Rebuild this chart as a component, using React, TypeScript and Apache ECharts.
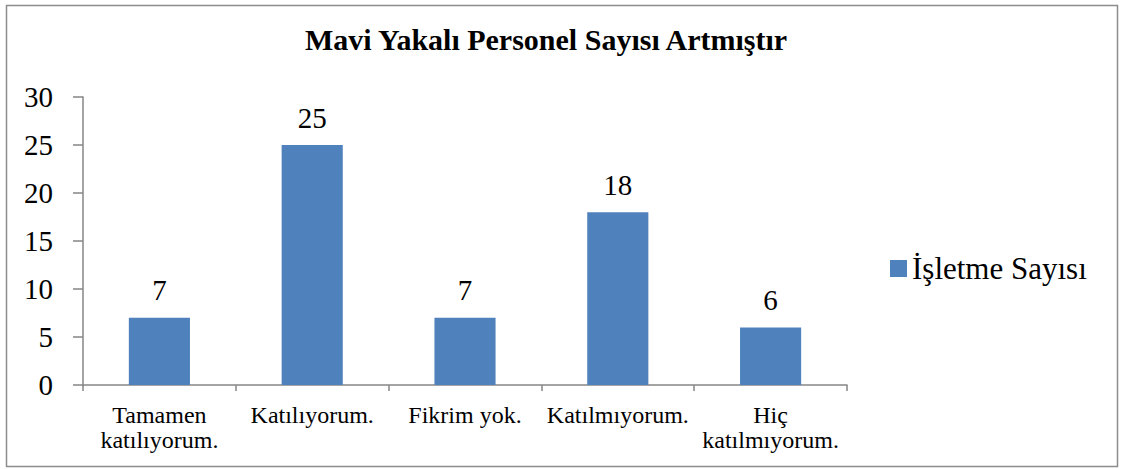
import React, { useEffect, useRef } from "react";
import * as echarts from "echarts";

const titleText = "Mavi Yakalı Personel Sayısı Artmıştır";
const seriesName = "İşletme Sayısı";
const categories = [
  "Tamamen\nkatılıyorum.",
  "Katılıyorum.",
  "Fikrim yok.",
  "Katılmıyorum.",
  "Hiç\nkatılmıyorum.",
];
const values = [7, 25, 7, 18, 6];
const yMin = 0;
const yMax = 30;
const yInterval = 5;

const FONT = "Liberation Serif";

export default function App() {
  const ref = useRef<HTMLDivElement>(null);
  useEffect(() => {
    if (!ref.current) return;
    const chart = echarts.init(ref.current, null, { renderer: "svg" });
    chart.setOption({
      animation: false,
      backgroundColor: "#ffffff",
      textStyle: { fontFamily: FONT },
      title: {
        text: titleText,
        left: 305,
        top: 24,
        padding: 0,
        textStyle: { fontFamily: FONT, fontSize: 30, fontWeight: "bold", color: "#000" },
      },
      legend: {
        data: [seriesName],
        left: 890,
        top: 253,
        padding: 0,
        itemWidth: 17,
        itemHeight: 17,
        itemGap: 6,
        icon: "rect",
        textStyle: { fontFamily: FONT, fontSize: 31, color: "#000" },
      },
      graphic: [
        {
          type: "rect",
          shape: { x: 6.5, y: 5.5, width: 1111, height: 461 },
          style: { fill: "none", stroke: "#8c8c8c", lineWidth: 1.5 },
          silent: true,
        },
      ],
      grid: { left: 83, right: 275, top: 97, bottom: 84, containLabel: false },
      xAxis: {
        type: "category",
        data: categories,
        axisLine: { show: true, lineStyle: { color: "#868686", width: 1.5 } },
        axisTick: { show: true, length: 6, lineStyle: { color: "#868686", width: 1.5 } },
        axisLabel: {
          fontFamily: FONT,
          fontSize: 24,
          color: "#000",
          lineHeight: 25,
          margin: 17,
          interval: 0,
        },
      },
      yAxis: {
        type: "value",
        min: yMin,
        max: yMax,
        interval: yInterval,
        splitLine: { show: false },
        axisLine: { show: true, lineStyle: { color: "#868686", width: 1.5 } },
        axisTick: { show: true, length: 10, lineStyle: { color: "#868686", width: 1.5 } },
        axisLabel: { fontFamily: FONT, fontSize: 29, color: "#000", margin: 30 },
      },
      series: [
        {
          name: seriesName,
          type: "bar",
          data: values,
          barWidth: "40%",
          itemStyle: { color: "#4F81BD" },
          label: {
            show: true,
            position: "top",
            distance: 13,
            fontFamily: FONT,
            fontSize: 29,
            color: "#000",
          },
        },
      ],
    });
    return () => chart.dispose();
  }, []);
  return (
    <div
      ref={ref}
      style={{ position: "absolute", left: 0, top: 0, width: 1122, height: 469 }}
    />
  );
}
